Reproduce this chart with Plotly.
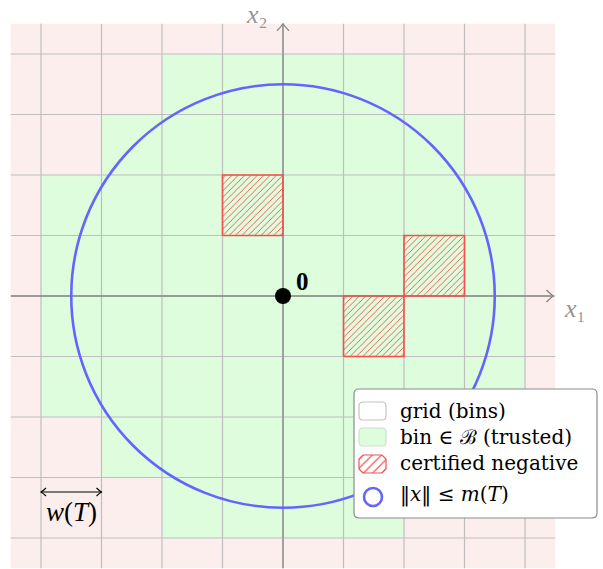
import plotly.graph_objects as go

# ---------------- data ----------------
grid_ticks = [-4, -3, -2, -1, 0, 1, 2, 3, 4]        # bin boundaries
grid_extent = 4.5                                      # half-width of drawn domain
trusted_row_y = [3, 2, 1, 0, -1, -2, -3, -4]           # lower edge of each row of bins
trusted_row_x0 = [-2, -3, -4, -4, -4, -4, -3, -2]      # first trusted bin edge in row
trusted_row_x1 = [2, 3, 4, 4, 4, 4, 3, 2]              # last trusted bin edge in row
cert_x = [-1, 1, 2]                                    # certified-negative bins (lower-left)
cert_y = [1, -1, 0]
bin_width = 1
m_radius = 3.5
origin_x = [0]
origin_y = [0]
legend_labels = ["grid (bins)", "bin ∈ ℬ (trusted)", "certified negative",
                 "‖<i>x</i>‖ ≤ <i>m</i>(<i>T</i>)"]

# ---------------- styling / geometry helpers ----------------
W, H = 603, 569
PX = 60.5
OX, OY = 283, 296
FONT = "Liberation Serif"
LFONT = "DejaVu Serif"

PINK = "rgb(253,238,238)"
GREEN = "rgb(221,253,221)"
GRID = "rgb(190,190,190)"
AXIS = "rgb(135,135,135)"
BLUE = "rgb(100,100,255)"
RED = "rgb(245,80,80)"


def dx(px):
    return (px - OX) / PX


def dy(py):
    return (OY - py) / PX


def rounded_path(x0, y0, x1, y1, r):
    """rounded rectangle path in data coords from a pixel box"""
    X = dx
    Y = dy
    return (f"M {X(x0+r)},{Y(y0)} L {X(x1-r)},{Y(y0)} Q {X(x1)},{Y(y0)} {X(x1)},{Y(y0+r)} "
            f"L {X(x1)},{Y(y1-r)} Q {X(x1)},{Y(y1)} {X(x1-r)},{Y(y1)} "
            f"L {X(x0+r)},{Y(y1)} Q {X(x0)},{Y(y1)} {X(x0)},{Y(y1-r)} "
            f"L {X(x0)},{Y(y0+r)} Q {X(x0)},{Y(y0)} {X(x0+r)},{Y(y0)} Z")


shapes = []
# background domain
shapes.append(dict(type="rect", xref="x", yref="y", x0=-grid_extent, x1=grid_extent,
                   y0=-grid_extent, y1=grid_extent, fillcolor=PINK, line=dict(width=0),
                   layer="below"))
# trusted bins
for ry, rx0, rx1 in zip(trusted_row_y, trusted_row_x0, trusted_row_x1):
    shapes.append(dict(type="rect", xref="x", yref="y", x0=rx0, x1=rx1, y0=ry,
                       y1=ry + bin_width, fillcolor=GREEN, line=dict(width=0), layer="below"))
# grid lines
for t in grid_ticks:
    shapes.append(dict(type="line", xref="x", yref="y", x0=t, x1=t, y0=-grid_extent,
                       y1=grid_extent, line=dict(color=GRID, width=1.2), layer="below"))
    shapes.append(dict(type="line", xref="x", yref="y", y0=t, y1=t, x0=-grid_extent,
                       x1=grid_extent, line=dict(color=GRID, width=1.2), layer="below"))
# axes
shapes.append(dict(type="line", xref="x", yref="y", x0=-grid_extent, x1=grid_extent - 0.03,
                   y0=0, y1=0, line=dict(color=AXIS, width=1.3), layer="below"))
shapes.append(dict(type="line", xref="x", yref="y", y0=-grid_extent, y1=grid_extent,
                   x0=0, x1=0, line=dict(color=AXIS, width=1.3), layer="below"))
# arrow heads (open chevrons)
tipx = grid_extent - 0.03
ah, aw = 7 / PX, 6 / PX
shapes.append(dict(type="path", xref="x", yref="y",
                   path=f"M {tipx-ah},{aw} Q {tipx-ah*0.4},{aw*0.3} {tipx},0 Q {tipx-ah*0.4},{-aw*0.3} {tipx-ah},{-aw}",
                   line=dict(color=AXIS, width=1.3), layer="below"))
tipy = grid_extent
shapes.append(dict(type="path", xref="x", yref="y",
                   path=f"M {aw},{tipy-ah} Q {aw*0.3},{tipy-ah*0.4} 0,{tipy} Q {-aw*0.3},{tipy-ah*0.4} {-aw},{tipy-ah}",
                   line=dict(color=AXIS, width=1.3), layer="below"))
# m(T) circle
shapes.append(dict(type="circle", xref="x", yref="y", x0=-m_radius, x1=m_radius,
                   y0=-m_radius, y1=m_radius, line=dict(color=BLUE, width=2.6), layer="below"))
# w(T) double arrow
wy = dy(492)
wx0, wx1 = grid_ticks[0], grid_ticks[0] + bin_width
shapes.append(dict(type="line", xref="x", yref="y", x0=wx0, x1=wx1, y0=wy, y1=wy,
                   line=dict(color="black", width=1.2), layer="below"))
sh, sw = 5 / PX, 4 / PX
shapes.append(dict(type="path", xref="x", yref="y",
                   path=f"M {wx0+sh},{wy+sw} Q {wx0+sh*0.4},{wy+sw*0.3} {wx0},{wy} Q {wx0+sh*0.4},{wy-sw*0.3} {wx0+sh},{wy-sw}",
                   line=dict(color="black", width=1.1), layer="below"))
shapes.append(dict(type="path", xref="x", yref="y",
                   path=f"M {wx1-sh},{wy+sw} Q {wx1-sh*0.4},{wy+sw*0.3} {wx1},{wy} Q {wx1-sh*0.4},{wy-sw*0.3} {wx1-sh},{wy-sw}",
                   line=dict(color="black", width=1.1), layer="below"))
# legend box
shapes.append(dict(type="path", xref="x", yref="y", path=rounded_path(354, 389, 597, 518, 5),
                   fillcolor="white", line=dict(color="rgb(140,140,140)", width=1.2), layer="below"))
# legend swatches
shapes.append(dict(type="path", xref="x", yref="y", path=rounded_path(359, 402, 386, 420, 4),
                   fillcolor="white", line=dict(color="rgb(195,195,195)", width=1.2), layer="below"))
shapes.append(dict(type="path", xref="x", yref="y", path=rounded_path(359, 428, 386, 446, 4),
                   fillcolor=GREEN, line=dict(color="rgb(205,225,205)", width=1.2), layer="below"))
shapes.append(dict(type="circle", xref="x", yref="y", x0=dx(364), x1=dx(382),
                   y0=dy(506), y1=dy(488), line=dict(color=BLUE, width=2.6), layer="below"))

fig = go.Figure()

pattern = dict(shape="/", fgcolor="rgb(240,60,60)", fgopacity=0.9, bgcolor="rgba(0,0,0,0)",
               size=4.5, solidity=0.2)
for cx, cy in zip(cert_x, cert_y):
    fig.add_trace(go.Scatter(x=[cx, cx + bin_width, cx + bin_width, cx, cx],
                             y=[cy, cy, cy + bin_width, cy + bin_width, cy],
                             mode="lines", fill="toself", fillcolor="rgba(0,0,0,0)",
                             fillpattern=pattern, line=dict(color=RED, width=1.6),
                             hoverinfo="skip", showlegend=False))

# legend hatched swatch (rounded square)
lx0, lx1, ly0, ly1, r = dx(359), dx(386), dy(473), dy(455), 4 / PX
sx = [lx0 + r, lx1 - r, lx1, lx1, lx1 - r, lx0 + r, lx0, lx0, lx0 + r]
sy = [ly0, ly0, ly0 + r, ly1 - r, ly1, ly1, ly1 - r, ly0 + r, ly0]
swatch_pattern = dict(shape="/", fgcolor="rgb(240,60,60)", fgopacity=0.9,
                      bgcolor="rgba(0,0,0,0)", size=6.5, solidity=0.18)
fig.add_trace(go.Scatter(x=sx, y=sy, mode="lines", fill="toself", fillcolor="rgba(0,0,0,0)",
                         fillpattern=swatch_pattern, line=dict(color=RED, width=1.2),
                         hoverinfo="skip", showlegend=False))

# origin point
fig.add_trace(go.Scatter(x=origin_x, y=origin_y, mode="markers",
                         marker=dict(color="black", size=16, line=dict(width=0)),
                         hoverinfo="skip", showlegend=False))

annotations = [
    dict(x=dx(257), y=dy(14), text="<i>x</i>₂", showarrow=False,
         font=dict(family=FONT, size=26, color="rgb(150,150,150)"), xref="x", yref="y",
         borderpad=0),
    dict(x=dx(575), y=dy(308), text="<i>x</i>₁", showarrow=False,
         font=dict(family=FONT, size=26, color="rgb(150,150,150)"), xref="x", yref="y",
         borderpad=0),
    dict(x=dx(302), y=dy(281), text="<b>0</b>", showarrow=False,
         font=dict(family=FONT, size=25, color="black"), xref="x", yref="y", borderpad=0),
    dict(x=(wx0 + wx1) / 2, y=dy(512), text="<i>w</i>(<i>T</i>)", showarrow=False,
         font=dict(family=FONT, size=27, color="black"), xref="x", yref="y", borderpad=0),
]
row_y = [411, 437, 463, 494]
for lab, yy in zip(legend_labels, row_y):
    annotations.append(dict(x=dx(399), y=dy(yy), xref="x", yref="y", text=lab,
                            showarrow=False, xanchor="left", yanchor="middle", borderpad=0,
                            font=dict(family=LFONT, size=20, color="black")))

fig.update_layout(
    width=W, height=H, margin=dict(l=0, r=0, t=0, b=0),
    paper_bgcolor="white", plot_bgcolor="white", showlegend=False,
    xaxis=dict(range=[dx(0), dx(W)], visible=False, fixedrange=True),
    yaxis=dict(range=[dy(H), dy(0)], visible=False, fixedrange=True),
    shapes=shapes, annotations=annotations,
)

fig.write_html("out.html", config={"displayModeBar": False},
               post_script="document.body.style.margin='0px';document.body.style.overflow='hidden';")
